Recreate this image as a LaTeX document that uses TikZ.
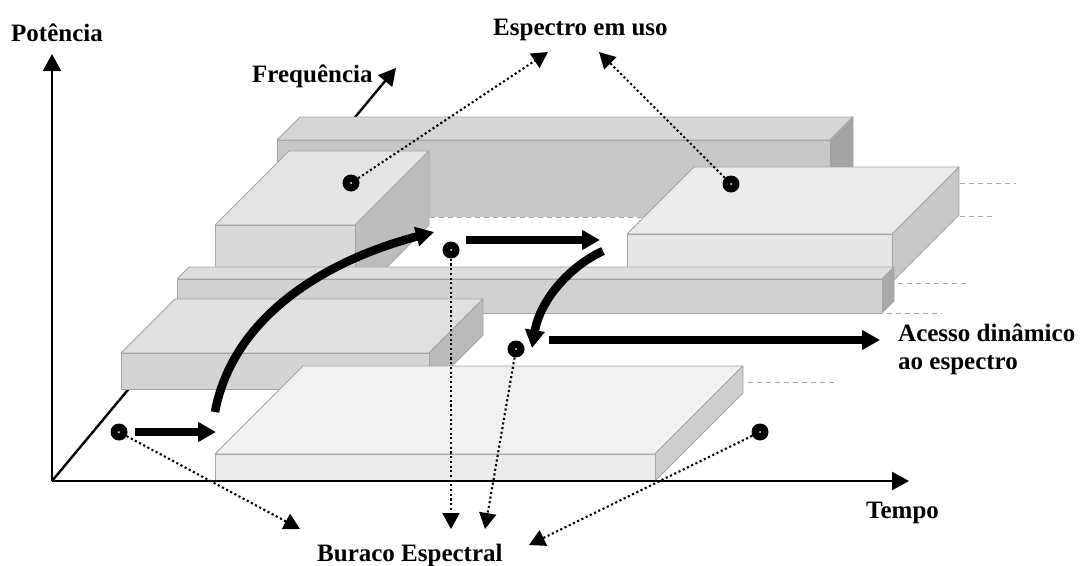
\documentclass[tikz,border=0pt]{standalone}
\usepackage{fontspec}
\setmainfont{Liberation Serif}
\usetikzlibrary{arrows.meta}
\definecolor{edgec}{HTML}{A4A4A4}
\definecolor{dashc}{HTML}{A8A8A8}
% slab: x0 y0 x1 y1 depth topcolour frontcolour sidecolour
\newcommand\slab[8]{%
  \filldraw[edge,fill=#6] (#1,#2) -- ({#1+#5},{#2-#5}) -- ({#3+#5},{#2-#5}) -- (#3,#2) -- cycle;
  \filldraw[edge,fill=#8] (#3,#2) -- ({#3+#5},{#2-#5}) -- ({#3+#5},{#4-#5}) -- (#3,#4) -- cycle;
  \filldraw[edge,fill=#7] (#1,#2) rectangle (#3,#4);
}
\begin{document}
\begin{tikzpicture}[x=1pt,y=-1pt,
  edge/.style={draw=edgec,line width=0.8pt,line join=round},
  lbl/.style={font=\fontsize{25}{28}\selectfont\bfseries,inner sep=0pt,anchor=base west},
  dot/.style={circle,fill=black,minimum size=17pt,inner sep=0pt,
     path picture={\fill[white] (path picture bounding box.center) circle (1pt);}},
  ptr/.style={line width=2.1pt,dash pattern=on 2.1pt off 2.6pt,-{Triangle[length=16pt,width=17pt]}},
  bigarrow/.style={line width=8.5pt,-{Triangle[length=18pt,width=19pt]}},
  axisarrow/.style={line width=2.4pt,-{Triangle[length=17pt,width=18pt]}},
  gdash/.style={draw=dashc,line width=1pt,dash pattern=on 5pt off 4pt}]
\useasboundingbox (0,0) rectangle (1081,565);

% axes anchors
\coordinate (O) at (52,481);
\coordinate (pT) at (52,54);
\coordinate (fT) at (396,68);
\coordinate (tT) at (909,481);

% frequency axis (behind the blocks)
\draw[axisarrow] (O) -- (fT);

% blocks, back to front
\slab{277}{140}{830}{217}{23}{black!16}{black!22}{black!36}
\draw[white,line width=1pt] (277,217) -- (830,217);
\draw[gdash] (277,217) -- (830,217);
\slab{215}{225}{355}{299}{74}{black!11}{black!15}{black!26}
\slab{627}{234}{892}{282}{67}{black!8}{black!10}{black!22}
\slab{177}{279}{882}{313}{12}{black!13}{black!18}{black!34}
\slab{121}{353}{429}{389}{54}{black!12}{black!17}{black!27}
\slab{215}{454}{655}{481}{88}{black!6}{black!8}{black!19}

% grey dashed continuations
\draw[gdash] (960,183) -- (1016,183);
\draw[gdash] (960,216) -- (995,216);
\draw[gdash] (898,283) -- (968,283);
\draw[gdash] (887,313) -- (942,313);
\draw[gdash] (748,382) -- (836,382);

% power and time axes
\draw[axisarrow] (O) -- (pT);
\draw[axisarrow] (O) -- (tT);

% labels
\node[lbl] (pot) at (11,41) {Potência};
\node[lbl] (freq) at (252,82) {Frequência};
\node[lbl] (uso) at (493,35) {Espectro em uso};
\node[lbl] (tempo) at (866,518) {Tempo};
\node[lbl] (acesso) at (898,341) {Acesso dinâmico};
\node[lbl] (acesso2) at (898,369) {ao espectro};
\node[lbl] (buraco) at (317,561) {Buraco Espectral};

% dots
\node[dot] (d1) at (351,183) {};
\node[dot] (d2) at (731,184) {};
\node[dot] (d3) at (451,250) {};
\node[dot] (d4) at (516,349) {};
\node[dot] (d5) at (119,432) {};
\node[dot] (d6) at (760,432) {};

% dotted pointers
\coordinate (u1) at (548,52);
\coordinate (u2) at (599,52);
\coordinate (b3) at (451,529);
\coordinate (b4) at (485,529);
\coordinate (b5) at (300,529);
\coordinate (b6) at (529,545);
\draw[ptr] (d1) -- (u1);
\draw[ptr] (d2) -- (u2);
\draw[ptr] (d3) -- (b3);
\draw[ptr] (d4) -- (b4);
\draw[ptr] (d5) -- (b5);
\draw[ptr] (d6) -- (b6);

% thick access arrows
\coordinate (a1s) at (135,432);
\coordinate (a1e) at (216,432);
\coordinate (a2s) at (215,412);
\coordinate (a2e) at (434,232);
\coordinate (a3s) at (466,240);
\coordinate (a3e) at (600,240);
\coordinate (a4s) at (603,251);
\coordinate (a4e) at (532,348);
\coordinate (a5s) at (549,340);
\coordinate (a5e) at (880,340);
\draw[bigarrow] (a1s) -- (a1e);
\draw[bigarrow] (a2s) .. controls (232,320) and (320,262) .. (a2e);
\draw[bigarrow] (a3s) -- (a3e);
\draw[bigarrow] (a4s) .. controls (570,266) and (540,300) .. (a4e);
\draw[bigarrow] (a5s) -- (a5e);
\end{tikzpicture}
\end{document}
